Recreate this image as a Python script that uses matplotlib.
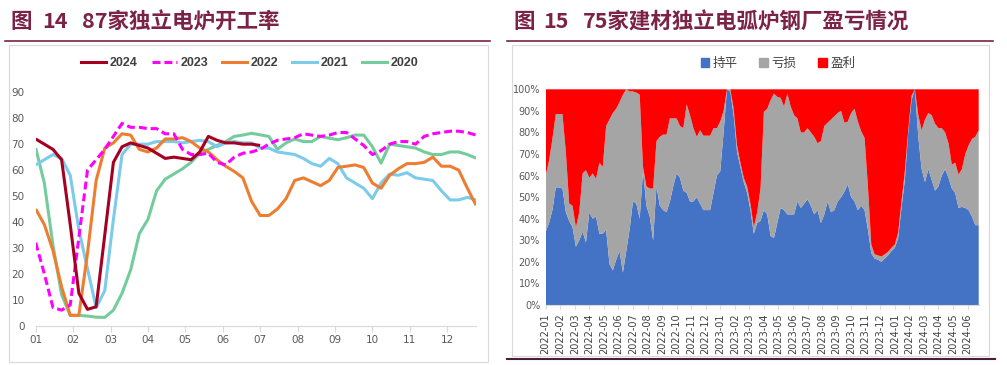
import numpy as np
import matplotlib
matplotlib.use('Agg')
import matplotlib.pyplot as plt
from matplotlib.lines import Line2D
from matplotlib.patches import Rectangle, Patch

plt.rcParams['font.family'] = ['Noto Sans CJK SC', 'DejaVu Sans']

# ---- left chart: 87 independent EAF mills, weekly utilisation (%) ----
month_labels = ['01', '02', '03', '04', '05', '06', '07', '08', '09', '10', '11', '12']
series_names = ['2024', '2023', '2022', '2021', '2020']

y2024 = [72, 70, 68, 64, 39, 12.5, 6.3, 7.3, 35, 63, 69, 70.5, 69.5, 68.5, 66.5, 64.5,
         65, 64.5, 64, 67, 73, 71.5, 70.5, 70.5, 70, 70, 69.5]
y2023 = [32, 20, 7, 6, 8, 34, 60, 64, 68, 73, 78, 76.5, 76.5, 76, 76, 74, 74, 68, 66, 66,
         66.5, 63, 62, 65, 66.5, 67, 68, 70, 71.5, 72, 72.5, 74, 73.5, 73, 73.5, 74.5, 74.5,
         72, 69.5, 66, 67.5, 70, 71, 71, 70, 73, 74, 74.5, 75, 75, 74.5, 73.5]
y2022 = [45, 39, 29, 15, 4, 4, 28, 56, 68.5, 70.5, 74, 73.5, 68, 67, 68.5, 72, 72, 72.5,
         71, 68.5, 67, 64, 61.5, 59.5, 57, 48, 42.5, 42.5, 45, 49, 56, 57, 55.5, 54, 56, 61,
         61.5, 62, 61, 55, 53, 58, 60.5, 62.5, 62.5, 63, 65, 61.5, 61.5, 60, 53, 46.5]
y2021 = [62, 64, 66, 64.5, 58, 37, 22, 7, 13.5, 41, 66, 70, 70, 70, 71, 71, 71, 70.5, 71,
         71.5, 71, 69, 70.5, 71, 70.5, 70.5, 68.5, 68.5, 67, 66.5, 66, 64.5, 62.5, 61.5,
         64.5, 62.5, 57, 55, 53, 49, 55, 58.5, 58, 59, 57, 56.5, 56, 52, 48.5, 48.5, 49.5, 48.5]
y2020 = [68.5, 55, 31, 12, 4, 4, 3.7, 3.3, 3.2, 6, 12.5, 21.5, 35.5, 41, 52, 56.5, 58.5,
         60.5, 63, 66.5, 68, 69.5, 71, 73, 73.5, 74.2, 73.6, 73, 68, 70.5, 72, 71, 71, 73,
         72.3, 71.7, 72.5, 73.5, 73.5, 69, 62.7, 70, 69.5, 69, 68.5, 67, 66, 66, 67, 67, 66, 64.6]

# ---- right chart: 75 building-material EAF mills, share (%) by margin status ----
flat = [34, 38, 44, 54.5, 54.5, 54, 43, 39, 36, 27, 30, 34, 29, 43, 40, 41, 33, 33, 35, 19,
        16, 21, 25, 15, 25, 35, 48, 47, 40, 62, 46, 41, 30, 55, 46, 44, 43, 48, 55, 61,
        59, 53, 52, 48, 48, 50, 47, 44, 44, 44, 52, 60, 62, 80, 100, 99, 88, 71, 64, 57,
        52, 44, 33, 38, 39, 44, 42, 32, 31, 38, 45, 44, 42, 42, 42, 48, 45, 47, 49, 46,
        42, 44, 38, 42, 48, 43, 44, 48, 50, 52.5, 56, 50, 48, 44, 46, 44, 35, 24, 21.5, 21,
        20, 21.5, 23, 25, 26.5, 31, 45, 58, 80, 95, 100, 78, 63, 57, 63, 58, 53, 55, 60, 63,
        59, 54, 52, 45, 45.5, 45, 44, 41, 37, 37]
loss = [26, 29, 33, 34, 34, 34.5, 28, 8, 10, 9, 13, 27, 33.5, 16, 21, 17.5, 33, 31, 48, 67,
        73, 70, 69, 82.5, 75, 64, 51, 51.5, 57.5, 2, 9, 13, 24, 21, 32, 35, 36, 38.5, 31.5, 25.5,
        24, 29, 41, 40, 34, 28, 34, 34.5, 34.5, 34.5, 30, 22, 23, 10, 0, 1, 3, 3, 2, 2,
        3, 3, 3, 5, 15, 45.5, 49, 63, 67, 58.5, 51, 48, 56, 50, 46, 38.5, 35, 33, 33, 34,
        36, 31, 38, 41, 36.5, 43, 43.5, 41, 40, 32, 29, 39, 43, 41, 34.5, 33.5, 20, 4, 2, 2,
        2.5, 2, 1.7, 1.5, 1.5, 2.5, 3, 4, 1, 2, 0, 10, 18, 29, 26, 30, 31, 27, 22, 17,
        16, 11, 14, 15.5, 17.5, 25, 30, 36, 41, 44]
profit = [100 - a - b for a, b in zip(flat, loss)]
status_names = ['持平', '亏损', '盈利']
date_labels = ['%d-%02d' % (y, m) for y in (2022, 2023, 2024) for m in range(1, 13)][:30]

W, H = 1007, 365
fig = plt.figure(figsize=(W / 100, H / 100), dpi=100)

maroon = '#7B2346'
axis_gray = '#D9D9D9'
txt_gray = '#595959'


def fx(px):
    return px / W


def fy(py):
    return 1 - py / H


# titles and rules
for x, s in [(10, '图'), (42, '14'), (82, '87家独立电炉开工率'),
             (513, '图'), (543, '15'), (583, '75家建材独立电弧炉钢厂盈亏情况')]:
    fig.text(fx(x), fy(22), s, fontsize=15.5, fontweight='bold', color=maroon,
             va='center', ha='left')
fig.add_artist(Line2D([fx(5), fx(490)], [fy(41), fy(41)], color=maroon, lw=1.2))
fig.add_artist(Line2D([fx(507), fx(993)], [fy(41), fy(41)], color=maroon, lw=1.2))
fig.add_artist(Rectangle((fx(9), fy(362)), fx(479), (362 - 45) / H, fill=False,
                         edgecolor=axis_gray, lw=0.8))
fig.add_artist(Rectangle((fx(512), fy(356)), fx(477), (356 - 45) / H, fill=False,
                         edgecolor=axis_gray, lw=0.8))
fig.add_artist(Line2D([fx(507), fx(995)], [fy(358.5), fy(358.5)], color='#4B1F3A', lw=1.5))

# ---- left chart ----
ax1 = fig.add_axes([fx(35.7), fy(325.7), fx(476 - 35.7), (325.7 - 92.3) / H])
colors = {'2024': '#A50021', '2023': '#FF00FF', '2022': '#ED7D31', '2021': '#7CCBEA', '2020': '#74CC9C'}
data = {'2024': y2024, '2023': y2023, '2022': y2022, '2021': y2021, '2020': y2020}
handles = []
for name in ['2020', '2021', '2022', '2023', '2024']:
    vals = data[name]
    ls = (0, (2.6, 1.3)) if name == '2023' else '-'
    ax1.plot(np.arange(len(vals)), vals, color=colors[name], lw=2.2, linestyle=ls,
             solid_capstyle='butt')
for name in series_names:
    ls = (0, (2.6, 1.3)) if name == '2023' else '-'
    handles.append(Line2D([], [], color=colors[name], lw=2.2, linestyle=ls, label=name))

ax1.set_xlim(0, 51)
ax1.set_ylim(0, 90)
ax1.set_yticks(np.arange(0, 91, 10))
ax1.set_xticks([m * 52 / 12 for m in range(12)])
ax1.set_xticklabels(month_labels)
for s in ['top', 'right', 'left']:
    ax1.spines[s].set_visible(False)
ax1.spines['bottom'].set_color(axis_gray)
ax1.tick_params(axis='y', length=0, labelsize=7.5, labelcolor=txt_gray, pad=8)
ax1.tick_params(axis='x', length=4, color=axis_gray, labelsize=7.5, labelcolor=txt_gray, pad=3)
for lab in ax1.get_xticklabels() + ax1.get_yticklabels():
    lab.set_family('DejaVu Sans')

fig.legend(handles=handles, loc='center', bbox_to_anchor=(fx(250), fy(63)), ncol=5,
           frameon=False, handlelength=2.0, columnspacing=1.1, handletextpad=0.3,
           labelcolor='#404040', prop={'family': 'Liberation Sans', 'size': 9, 'weight': 'bold'})

# ---- right chart ----
ax2 = fig.add_axes([fx(545.7), fy(305), fx(978.7 - 545.7), (305 - 89.3) / H])
xw = np.arange(len(flat)) * 12 / 52
ax2.stackplot(xw, flat, loss, profit, colors=['#4472C4', '#A5A5A5', '#FF0000'],
              labels=status_names, lw=0)
ax2.set_xlim(0, xw[-1])
ax2.set_ylim(0, 100)
ax2.set_yticks(np.arange(0, 101, 10))
ax2.set_yticklabels(['%d%%' % v for v in range(0, 101, 10)])
ax2.set_xticks(np.arange(len(date_labels)))
ax2.set_xticklabels(date_labels, rotation=90)
for s in ['top', 'right', 'left']:
    ax2.spines[s].set_visible(False)
ax2.spines['bottom'].set_color(axis_gray)
ax2.tick_params(axis='y', length=0, labelsize=7, labelcolor=txt_gray, pad=4)
ax2.tick_params(axis='x', length=3, color=axis_gray, labelsize=7, labelcolor='#404040', pad=3)
for lab in ax2.get_xticklabels() + ax2.get_yticklabels():
    lab.set_family('DejaVu Sans')

leg_handles = [Patch(color=c, label=n) for c, n in zip(['#4472C4', '#A5A5A5', '#FF0000'], status_names)]
fig.legend(handles=leg_handles, loc='center', bbox_to_anchor=(fx(778), fy(63)), ncol=3,
           frameon=False, fontsize=9, handlelength=0.7, handleheight=0.7,
           columnspacing=1.7, handletextpad=0.3, labelcolor='#404040')

fig.savefig('out.png', dpi=100)
